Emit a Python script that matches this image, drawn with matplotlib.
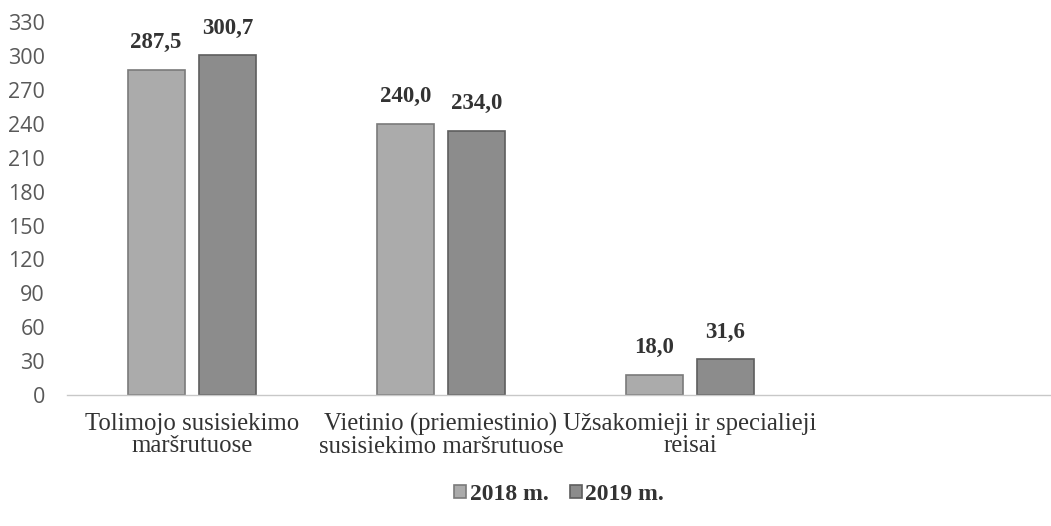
import numpy as np
import matplotlib
matplotlib.use('Agg')
import matplotlib.pyplot as plt

categories = ['Tolimojo susisiekimo\nmaršrutuose',
              'Vietinio (priemiestinio)\nsusisiekimo maršrutuose',
              'Užsakomieji ir specialieji\nreisai']
values_2018 = [287.5, 240.0, 18.0]
values_2019 = [300.7, 234.0, 31.6]
series_names = ['2018 m.', '2019 m.']
yticks = np.arange(0, 331, 30)

serif = ['Liberation Serif', 'DejaVu Serif']

fig = plt.figure(figsize=(10.51, 5.26), dpi=100)
ax = fig.add_axes([0.064, 0.249, 0.936, 0.709])

x = np.arange(len(categories))
w = 0.23
off = 0.143
b1 = ax.bar(x - off, values_2018, w, color='#ababab', edgecolor='#7a7a7a', linewidth=1.2, label=series_names[0])
b2 = ax.bar(x + off, values_2019, w, color='#8c8c8c', edgecolor='#5e5e5e', linewidth=1.2, label=series_names[1])

def autolabel(rects):
    for rect in rects:
        h = rect.get_height()
        ax.annotate(('%.1f' % h).replace('.', ','),
                    (rect.get_x() + rect.get_width() / 2., h),
                    xytext=(0, 12), textcoords='offset points',
                    ha='center', va='bottom', fontsize=16.5, fontweight='bold',
                    family=serif, color='#333333')

autolabel(b1)
autolabel(b2)

ax.set_xlim(-0.5, 3.45)
ax.set_ylim(0, 330)
ax.set_yticks(yticks)
ax.tick_params(axis='y', length=0, pad=16, labelsize=15.5, labelcolor='#595959')
ax.set_xticks(x)
ax.set_xticklabels(categories, family=serif, fontsize=17.8, color='#333333', linespacing=0.98)
ax.tick_params(axis='x', length=0, pad=13)
for lbl in ax.get_yticklabels():
    lbl.set_family(['Open Sans', 'DejaVu Sans'])

for s in ['top', 'right', 'left']:
    ax.spines[s].set_visible(False)
ax.spines['bottom'].set_color('#c8c8c8')
ax.spines['bottom'].set_linewidth(1)

leg = fig.legend(handles=[b1, b2], labels=series_names, loc='center', bbox_to_anchor=(0.532, 0.06),
                 ncol=2, frameon=False, handlelength=0.5, handleheight=0.5, handletextpad=0.15,
                 columnspacing=0.9, prop={'family': serif, 'size': 17, 'weight': 'bold'})
for t in leg.get_texts():
    t.set_color('#333333')

fig.savefig('out.png', dpi=100)
